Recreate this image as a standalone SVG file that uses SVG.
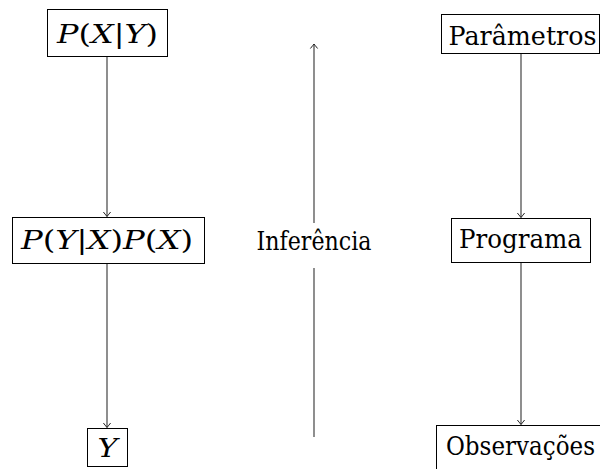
<svg xmlns="http://www.w3.org/2000/svg" width="600" height="469" viewBox="0 0 600 469">
  <style>
    .box { fill: #fff; stroke: #000; stroke-width: 1; }
    .lbl { font-family: "DejaVu Serif", serif; font-size: 26px; fill: #000; text-anchor: middle; }
    .it { font-style: italic; }
    .edge { stroke: #444; stroke-width: 1.2; fill: none; }
  </style>
  <defs>
    <marker id="tip" markerUnits="userSpaceOnUse" markerWidth="10" markerHeight="10" viewBox="-6 -5 8 10" refX="0" refY="0" orient="auto">
      <path d="M-4.5,-3.6 Q-1,-0.8 0,0 Q-1,0.8 -4.5,3.6" fill="none" stroke="#222" stroke-width="1"/>
    </marker>
  </defs>

  <!-- connectors -->
  <g id="edges">
    <line class="edge" x1="107" y1="57" x2="107" y2="216.5" marker-end="url(#tip)"/>
    <line class="edge" x1="107" y1="264" x2="107" y2="427.5" marker-end="url(#tip)"/>
    <line class="edge" x1="521" y1="54" x2="521" y2="217.5" marker-end="url(#tip)"/>
    <line class="edge" x1="521" y1="263" x2="521" y2="424.5" marker-end="url(#tip)"/>
    <line class="edge" x1="314" y1="437" x2="314" y2="268"/>
    <line class="edge" x1="314" y1="223" x2="314" y2="44" marker-end="url(#tip)"/>
  </g>

  <!-- left column: probabilistic view -->
  <g id="posterior">
    <rect class="box" x="47.5" y="9.5" width="120" height="47"/>
    <text class="lbl" x="107.5" y="43" textLength="101" lengthAdjust="spacingAndGlyphs"><tspan class="it">P</tspan>(<tspan class="it">X</tspan>|<tspan class="it">Y</tspan>)</text>
  </g>
  <g id="joint">
    <rect class="box" x="12.5" y="217.5" width="192" height="46"/>
    <text class="lbl" x="107" y="249" textLength="172" lengthAdjust="spacingAndGlyphs"><tspan class="it">P</tspan>(<tspan class="it">Y</tspan>|<tspan class="it">X</tspan>)<tspan class="it">P</tspan>(<tspan class="it">X</tspan>)</text>
  </g>
  <g id="data">
    <rect class="box" x="87.5" y="428.5" width="40" height="38"/>
    <text class="lbl it" x="107.5" y="457" textLength="20" lengthAdjust="spacingAndGlyphs">Y</text>
  </g>

  <!-- middle: inference direction -->
  <g id="inference">
    <text class="lbl" x="314" y="250" font-size="23" textLength="115" lengthAdjust="spacingAndGlyphs">Inferência</text>
  </g>

  <!-- right column: program view -->
  <g id="params">
    <rect class="box" x="441.5" y="14.5" width="158" height="39"/>
    <text class="lbl" x="522.5" y="45" textLength="148" lengthAdjust="spacingAndGlyphs">Parâmetros</text>
  </g>
  <g id="program">
    <rect class="box" x="451.5" y="218.5" width="139" height="44"/>
    <text class="lbl" x="520.5" y="248" textLength="123" lengthAdjust="spacingAndGlyphs">Programa</text>
  </g>
  <g id="observations">
    <rect class="box" x="436.5" y="425.5" width="170" height="50"/>
    <text class="lbl" x="520.5" y="455" textLength="149" lengthAdjust="spacingAndGlyphs">Observações</text>
  </g>
</svg>
